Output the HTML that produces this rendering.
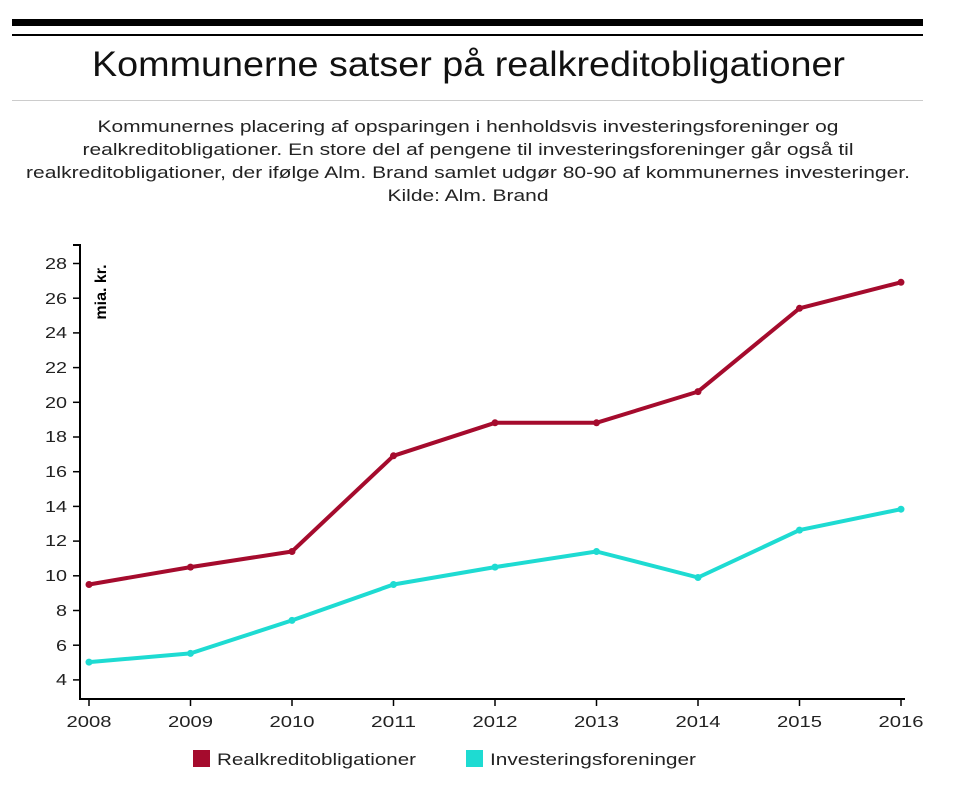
<!DOCTYPE html>
<html><head><meta charset="utf-8"><style>
body{margin:0;background:#fff;width:960px;height:792px;overflow:hidden;font-family:"Liberation Sans",Arial,sans-serif;}
</style></head><body>
<svg width="960" height="792" xmlns="http://www.w3.org/2000/svg" font-family="Liberation Sans, Arial, sans-serif">
<rect x="12" y="19" width="911" height="7" fill="#000"/>
<rect x="12" y="34" width="911" height="2" fill="#000"/>
<text x="468.5" y="76" font-size="35" text-anchor="middle" fill="#111" textLength="753" lengthAdjust="spacingAndGlyphs">Kommunerne satser på realkreditobligationer</text>
<rect x="12" y="100" width="911" height="1" fill="#ccc"/>
<g font-size="17" text-anchor="middle" fill="#222" lengthAdjust="spacingAndGlyphs">
<text x="468" y="132" textLength="741" lengthAdjust="spacingAndGlyphs">Kommunernes placering af opsparingen i henholdsvis investeringsforeninger og</text>
<text x="468" y="155" textLength="771" lengthAdjust="spacingAndGlyphs">realkreditobligationer. En store del af pengene til investeringsforeninger går også til</text>
<text x="468" y="178" textLength="884" lengthAdjust="spacingAndGlyphs">realkreditobligationer, der ifølge Alm. Brand samlet udgør 80-90 af kommunernes investeringer.</text>
<text x="468" y="201" textLength="161" lengthAdjust="spacingAndGlyphs">Kilde: Alm. Brand</text>
</g>
<g stroke="#000" stroke-width="2" fill="none">
<path d="M73 245H80V699H905"/>
</g>
<g stroke="#000" stroke-width="1.5">
<line x1="73" y1="263.5" x2="80" y2="263.5"/><line x1="73" y1="298.2" x2="80" y2="298.2"/><line x1="73" y1="332.9" x2="80" y2="332.9"/><line x1="73" y1="367.6" x2="80" y2="367.6"/><line x1="73" y1="402.3" x2="80" y2="402.3"/><line x1="73" y1="437" x2="80" y2="437"/><line x1="73" y1="471.7" x2="80" y2="471.7"/><line x1="73" y1="506.4" x2="80" y2="506.4"/><line x1="73" y1="541.1" x2="80" y2="541.1"/><line x1="73" y1="575.8" x2="80" y2="575.8"/><line x1="73" y1="610.5" x2="80" y2="610.5"/><line x1="73" y1="645.2" x2="80" y2="645.2"/><line x1="73" y1="679.9" x2="80" y2="679.9"/>
<line x1="89" y1="699" x2="89" y2="706"/><line x1="190.5" y1="699" x2="190.5" y2="706"/><line x1="292" y1="699" x2="292" y2="706"/><line x1="393.5" y1="699" x2="393.5" y2="706"/><line x1="495" y1="699" x2="495" y2="706"/><line x1="596.5" y1="699" x2="596.5" y2="706"/><line x1="698" y1="699" x2="698" y2="706"/><line x1="799.5" y1="699" x2="799.5" y2="706"/><line x1="901" y1="699" x2="901" y2="706"/>
</g>
<g font-size="16" fill="#222" text-anchor="end">
<text x="67" y="269" textLength="22" lengthAdjust="spacingAndGlyphs">28</text><text x="67" y="304" textLength="22" lengthAdjust="spacingAndGlyphs">26</text><text x="67" y="338" textLength="22" lengthAdjust="spacingAndGlyphs">24</text><text x="67" y="373" textLength="22" lengthAdjust="spacingAndGlyphs">22</text><text x="67" y="408" textLength="22" lengthAdjust="spacingAndGlyphs">20</text><text x="67" y="442" textLength="22" lengthAdjust="spacingAndGlyphs">18</text><text x="67" y="477" textLength="22" lengthAdjust="spacingAndGlyphs">16</text><text x="67" y="512" textLength="22" lengthAdjust="spacingAndGlyphs">14</text><text x="67" y="546" textLength="22" lengthAdjust="spacingAndGlyphs">12</text><text x="67" y="581" textLength="22" lengthAdjust="spacingAndGlyphs">10</text><text x="67" y="616" textLength="11" lengthAdjust="spacingAndGlyphs">8</text><text x="67" y="651" textLength="11" lengthAdjust="spacingAndGlyphs">6</text><text x="67" y="685" textLength="11" lengthAdjust="spacingAndGlyphs">4</text>
</g>
<g font-size="16" fill="#222" text-anchor="middle">
<text x="89" y="727" textLength="45" lengthAdjust="spacingAndGlyphs">2008</text><text x="190.5" y="727" textLength="45" lengthAdjust="spacingAndGlyphs">2009</text><text x="292" y="727" textLength="45" lengthAdjust="spacingAndGlyphs">2010</text><text x="393.5" y="727" textLength="45" lengthAdjust="spacingAndGlyphs">2011</text><text x="495" y="727" textLength="45" lengthAdjust="spacingAndGlyphs">2012</text><text x="596.5" y="727" textLength="45" lengthAdjust="spacingAndGlyphs">2013</text><text x="698" y="727" textLength="45" lengthAdjust="spacingAndGlyphs">2014</text><text x="799.5" y="727" textLength="45" lengthAdjust="spacingAndGlyphs">2015</text><text x="901" y="727" textLength="45" lengthAdjust="spacingAndGlyphs">2016</text>
</g>
<text transform="translate(106,292) rotate(-90)" font-size="16" font-weight="bold" text-anchor="middle" fill="#000">mia. kr.</text>
<polyline fill="none" stroke="#a50b2d" stroke-width="4" stroke-linejoin="round" points="89,584.5 190.5,567.1 292,551.5 393.5,455.8 495,422.8 596.5,422.8 698,391.6 799.5,308.3 901,282.3"/>
<g fill="#a50b2d"><circle cx="89" cy="584.5" r="3.5"/><circle cx="190.5" cy="567.1" r="3.5"/><circle cx="292" cy="551.5" r="3.5"/><circle cx="393.5" cy="455.8" r="3.5"/><circle cx="495" cy="422.8" r="3.5"/><circle cx="596.5" cy="422.8" r="3.5"/><circle cx="698" cy="391.6" r="3.5"/><circle cx="799.5" cy="308.3" r="3.5"/><circle cx="901" cy="282.3" r="3.5"/></g>
<polyline fill="none" stroke="#1edbd2" stroke-width="4" stroke-linejoin="round" points="89,662.1 190.5,653.4 292,620.4 393.5,584.5 495,567.1 596.5,551.5 698,577.5 799.5,530.1 901,509.2"/>
<g fill="#1edbd2"><circle cx="89" cy="662.1" r="3.5"/><circle cx="190.5" cy="653.4" r="3.5"/><circle cx="292" cy="620.4" r="3.5"/><circle cx="393.5" cy="584.5" r="3.5"/><circle cx="495" cy="567.1" r="3.5"/><circle cx="596.5" cy="551.5" r="3.5"/><circle cx="698" cy="577.5" r="3.5"/><circle cx="799.5" cy="530.1" r="3.5"/><circle cx="901" cy="509.2" r="3.5"/></g>
<rect x="193" y="750" width="17" height="17" fill="#a50b2d"/>
<text x="217" y="765" font-size="17" fill="#222" textLength="199" lengthAdjust="spacingAndGlyphs">Realkreditobligationer</text>
<rect x="466" y="750" width="17" height="17" fill="#1edbd2"/>
<text x="490" y="765" font-size="17" fill="#222" textLength="206" lengthAdjust="spacingAndGlyphs">Investeringsforeninger</text>
</svg>
</body></html>
